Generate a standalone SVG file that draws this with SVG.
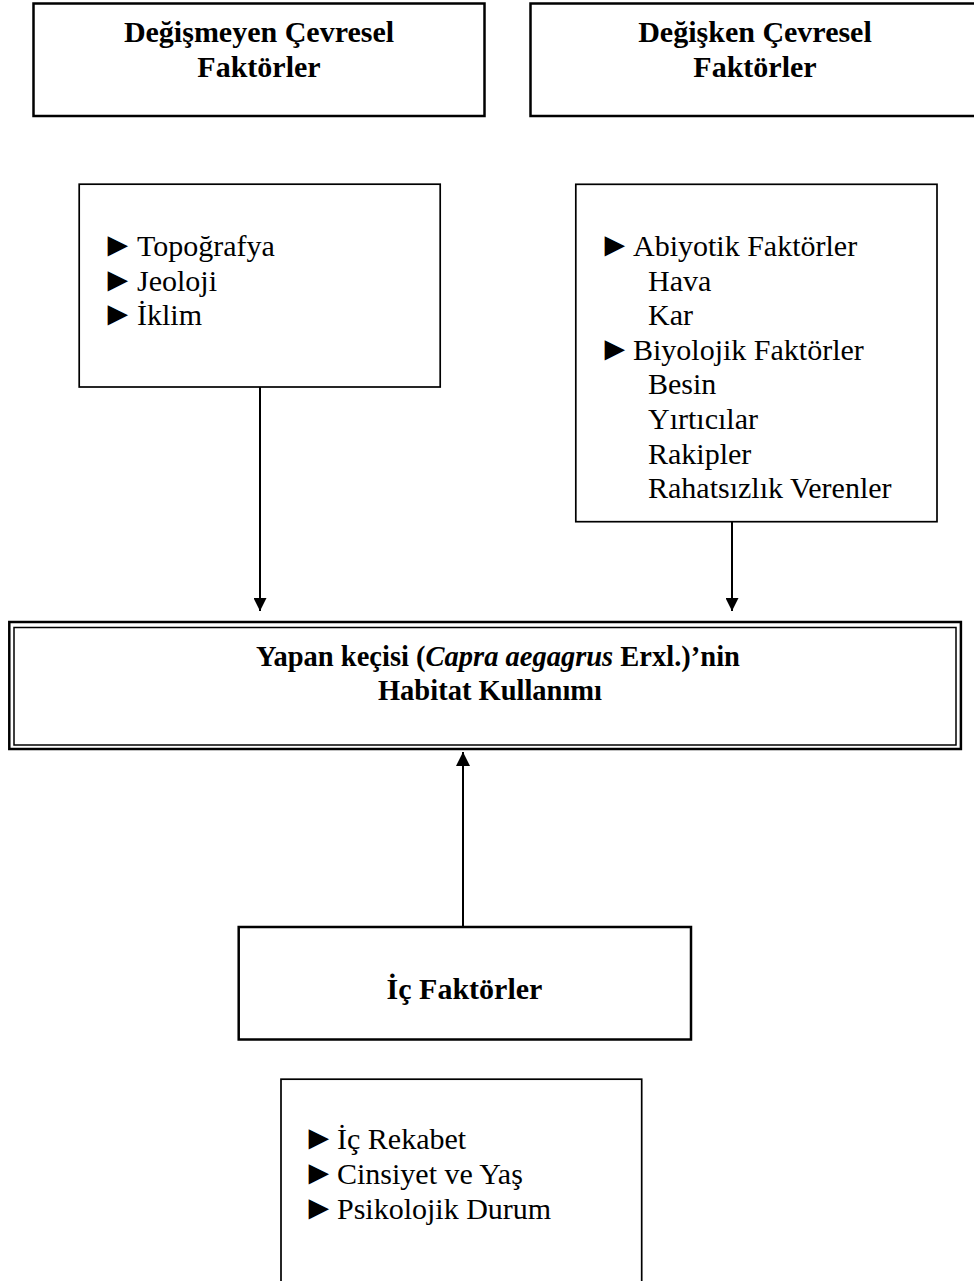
<svg xmlns="http://www.w3.org/2000/svg" width="974" height="1281" viewBox="0 0 974 1281">
<style>
.hdr{fill:#fff;stroke:#000;stroke-width:2.5}
.box{fill:#fff;stroke:#000;stroke-width:1.7}
.t{font-family:"Liberation Serif","Times New Roman",serif;font-size:30px;fill:#000}
.bl{font-size:34px}
.b{font-weight:bold}
.c{text-anchor:middle}
.con{stroke:#000;stroke-width:2;fill:none}
</style>
<defs>
<marker id="ah" viewBox="0 0 12 12" refX="12" refY="6" markerWidth="13" markerHeight="13" markerUnits="userSpaceOnUse" orient="auto">
<path d="M0,0 L12,6 L0,12 z" fill="#000"/>
</marker>
<marker id="ah2" viewBox="0 0 14 14" refX="14" refY="7" markerWidth="14" markerHeight="14" markerUnits="userSpaceOnUse" orient="auto">
<path d="M0,0 L14,7 L0,14 z" fill="#000"/>
</marker>
</defs>
<g id="connectors">
<line class="con" x1="260" y1="387" x2="260" y2="611" marker-end="url(#ah)"/>
<line class="con" x1="732" y1="522" x2="732" y2="611" marker-end="url(#ah)"/>
<line class="con" x1="463" y1="927" x2="463" y2="752" marker-end="url(#ah2)"/>
</g>
<g id="n-degismeyen">
<rect class="hdr" x="33.5" y="3.5" width="451" height="112.5"/>
<text class="t b c" x="259" y="42">Değişmeyen Çevresel</text>
<text class="t b c" x="259" y="77">Faktörler</text>
</g>
<g id="n-degisken">
<rect class="hdr" x="530.5" y="3.5" width="450" height="112.5"/>
<text class="t b c" x="755" y="42">Değişken Çevresel</text>
<text class="t b c" x="755" y="77">Faktörler</text>
</g>
<g id="n-sabit-liste">
<rect class="box" x="79.2" y="184.2" width="361" height="202.8"/>
<text class="t" y="256"><tspan class="bl" x="101">►</tspan><tspan x="137">Topoğrafya</tspan></text>
<text class="t" y="290.6"><tspan class="bl" x="101">►</tspan><tspan x="137">Jeoloji</tspan></text>
<text class="t" y="325.2"><tspan class="bl" x="101">►</tspan><tspan x="137">İklim</tspan></text>
</g>
<g id="n-degisken-liste">
<rect class="box" x="575.8" y="184.3" width="361.2" height="337.4"/>
<text class="t" y="256"><tspan class="bl" x="598">►</tspan><tspan x="633">Abiyotik Faktörler</tspan></text>
<text class="t" x="648" y="290.6">Hava</text>
<text class="t" x="648" y="325.2">Kar</text>
<text class="t" y="359.8"><tspan class="bl" x="598">►</tspan><tspan x="633">Biyolojik Faktörler</tspan></text>
<text class="t" x="648" y="394.4">Besin</text>
<text class="t" x="648" y="429">Yırtıcılar</text>
<text class="t" x="648" y="463.6">Rakipler</text>
<text class="t" x="648" y="498.2">Rahatsızlık Verenler</text>
</g>
<g id="n-habitat">
<rect x="9.3" y="622" width="951.6" height="127" fill="#fff" stroke="#000" stroke-width="2.5"/>
<rect x="14" y="627.5" width="942" height="117.5" fill="none" stroke="#000" stroke-width="1.5"/>
<text class="t b c" x="498" y="666" style="font-size:28.5px">Yapan keçisi (<tspan font-style="italic">Capra aegagrus</tspan> Erxl.)’nin</text>
<text class="t b c" x="490" y="700" style="font-size:28.5px">Habitat Kullanımı</text>
</g>
<g id="n-ic">
<rect class="hdr" x="238.7" y="927" width="452.3" height="112.5"/>
<text class="t b c" x="464.5" y="999">İç Faktörler</text>
</g>
<g id="n-ic-liste">
<rect class="box" x="281" y="1079.2" width="360.7" height="230"/>
<text class="t" y="1149"><tspan class="bl" x="302">►</tspan><tspan x="337">İç Rekabet</tspan></text>
<text class="t" y="1184"><tspan class="bl" x="302">►</tspan><tspan x="337">Cinsiyet ve Yaş</tspan></text>
<text class="t" y="1219"><tspan class="bl" x="302">►</tspan><tspan x="337">Psikolojik Durum</tspan></text>
</g>
</svg>
